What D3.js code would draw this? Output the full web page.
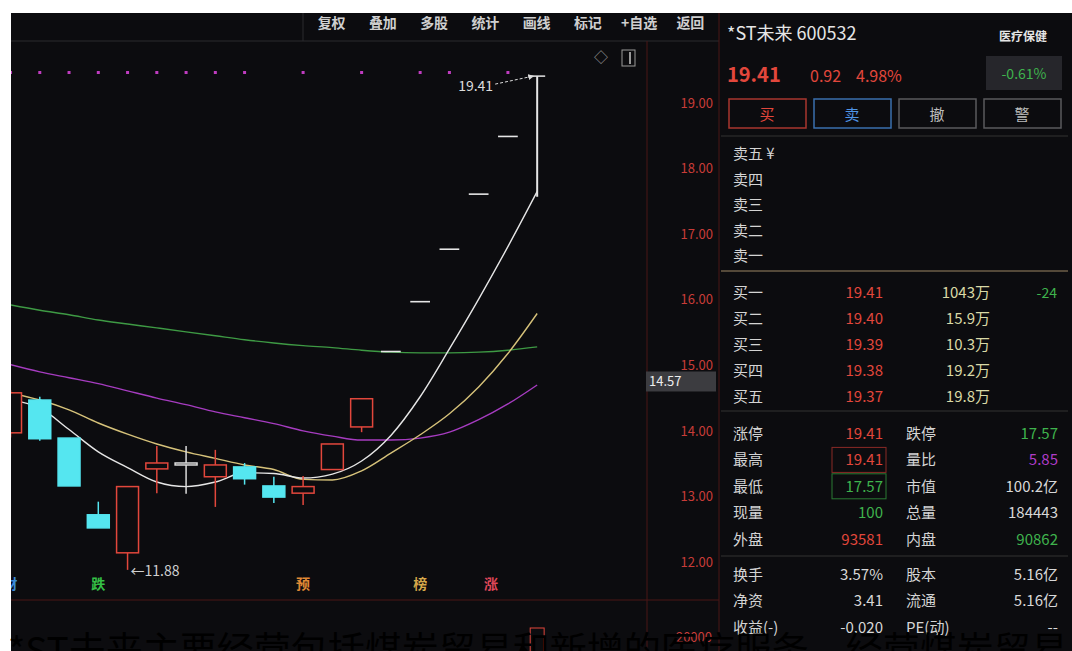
<!DOCTYPE html>
<html>
<head>
<meta charset="utf-8">
<script src="https://cdn.jsdelivr.net/npm/d3@7/dist/d3.min.js"></script>
<style>
  body { margin: 0; background: #fff; }
  svg text { font-family: "Noto Sans CJK SC", "Noto Sans", sans-serif; }
</style>
</head>
<body>
<div id="chart"></div>
<script>
// ---- data ----
var days  = ['D01','D02','D03','D04','D05','D06','D07','D08','D09','D10','D11','D12','D13','D14','D15','D16','D17','D18','D19'];
var open  = [13.97,14.47,13.89,12.72,12.14,13.42,13.51,13.30,13.45,13.16,13.05,13.41,14.06,15.21,15.97,16.77,17.61,18.49,17.57];
var high  = [14.62,14.52,13.89,12.92,13.15,13.77,13.77,13.71,13.51,13.30,13.31,13.80,14.49,15.21,15.97,16.77,17.61,18.49,19.41];
var low   = [13.90,13.85,13.16,12.52,11.88,13.05,13.04,12.84,13.18,12.90,12.87,13.41,13.98,15.21,15.97,16.77,17.61,18.49,17.57];
var close = [14.58,13.88,13.16,12.52,13.15,13.51,13.51,13.48,13.27,12.99,13.15,13.80,14.49,15.21,15.97,16.77,17.61,18.49,19.41];

var ma5  = [14.47,14.35,14.02,13.68,13.44,13.22,13.15,13.22,13.36,13.35,13.28,13.34,13.54,13.93,14.52,15.25,16.01,16.81,17.65];
var ma10 = [14.58,14.47,14.32,14.12,13.95,13.80,13.68,13.58,13.48,13.41,13.26,13.25,13.39,13.66,13.94,14.26,14.67,15.18,15.79];
var ma20 = [15.01,14.90,14.81,14.72,14.61,14.50,14.40,14.29,14.20,14.11,14.00,13.92,13.86,13.86,13.89,13.98,14.17,14.41,14.70];
var ma60 = [15.92,15.84,15.77,15.69,15.63,15.57,15.51,15.45,15.39,15.34,15.30,15.27,15.23,15.20,15.19,15.19,15.20,15.23,15.28];

var priceTicks = [12,13,14,15,16,17,18,19];
var markerDays = [0,1,2,3,4,5,6,7,8,10,12,14,15,17];
var eventDays  = [0,3,10,14,17];
var eventText  = ['财','跌','预','榜','涨'];

var toolbar = ['复权','叠加','多股','统计','画线','标记','+自选','返回'];

var sellRows = ['卖五','卖四','卖三','卖二','卖一'];
var buyRows  = ['买一','买二','买三','买四','买五'];
var buyPrice = [19.41,19.40,19.39,19.38,19.37];
var buyVol   = ['1043万','15.9万','10.3万','19.2万','19.8万'];

var statLabelL = ['涨停','最高','最低','现量','外盘','换手','净资','收益(-)'];
var statValueL = ['19.41','19.41','17.57','100','93581','3.57%','3.41','-0.020'];
var statLabelR = ['跌停','量比','市值','总量','内盘','股本','流通','PE(动)'];
var statValueR = ['17.57','5.85','100.2亿','184443','90862','5.16亿','5.16亿','--'];

// ---- colours ----
var BG = '#0c0c0f', UP = '#e2473c', DOWN = '#55e6f0', AXISRED = '#c83c38', LINE = '#4a1616';
var colL = [UP, UP, '#3fb34d', '#3fb34d', UP, '#d8d8d8', '#d8d8d8', '#d8d8d8'];
var colR = ['#3fb34d', '#b03cc8', '#d8d8d8', '#d8d8d8', '#3fb34d', '#d8d8d8', '#d8d8d8', '#d8d8d8'];
var evCol = ['#3a8ad8', '#35c046', '#e08a35', '#d6a84a', '#e0485a'];

var width = 1072, height = 651;

var svg = d3.select('#chart').append('svg')
  .attr('width', width)
  .attr('height', height);

svg.append('rect').attr('x', 11).attr('y', 13).attr('width', width - 11).attr('height', height - 13).attr('fill', BG);

// ---- scales ----
var x = d3.scaleBand()
  .domain(days)
  .range([-4.1, 551.8])
  .paddingInner(0.25)
  .paddingOuter(0.125);
var bw = x.bandwidth();
var cx = function(i) { return x(days[i]) + bw / 2; };

var y = d3.scaleLinear()
  .domain([12, 19])
  .range([562, 103]);

// ---- frame lines ----
svg.append('line').attr('x1', 11).attr('x2', 719).attr('y1', 41).attr('y2', 41).attr('stroke', '#2a2a2e');
svg.append('line').attr('x1', 303).attr('x2', 303).attr('y1', 13).attr('y2', 41).attr('stroke', '#2a2a2e');
svg.append('line').attr('x1', 647).attr('x2', 647).attr('y1', 41).attr('y2', height).attr('stroke', LINE);
svg.append('line').attr('x1', 719).attr('x2', 719).attr('y1', 13).attr('y2', height).attr('stroke', LINE);
svg.append('line').attr('x1', 11).attr('x2', 719).attr('y1', 600).attr('y2', 600).attr('stroke', LINE);

// toolbar
var tb = d3.scaleBand().domain(toolbar).range([306, 716]);
svg.append('g').selectAll('text').data(toolbar).enter().append('text')
  .attr('x', d => tb(d) + tb.bandwidth() / 2)
  .attr('y', 28)
  .attr('text-anchor', 'middle')
  .attr('fill', '#cfcfcf')
  .attr('font-size', 14)
  .attr('font-weight', 'bold')
  .text(d => d);

// small icons top-right of chart
svg.append('text').attr('x', 601).attr('y', 62).attr('text-anchor', 'middle').attr('fill', '#9a9a9a').attr('font-size', 14).text('◇');
svg.append('rect').attr('x', 622).attr('y', 50).attr('width', 13).attr('height', 16).attr('fill', 'none').attr('stroke', '#9a9a9a');
svg.append('line').attr('x1', 630).attr('x2', 630).attr('y1', 52).attr('y2', 64).attr('stroke', '#9a9a9a').attr('stroke-width', 2);

// ---- price axis ----
var yAxis = d3.axisRight(y).tickValues(priceTicks).tickFormat(d3.format('.2f')).tickSize(0);
var ax = svg.append('g').attr('class', 'y axis').attr('transform', 'translate(713,0)').call(yAxis);
ax.select('.domain').remove();
ax.selectAll('text').attr('x', 0).attr('text-anchor', 'end').attr('fill', AXISRED).attr('font-size', 13);

svg.append('text').attr('x', 712).attr('y', 642).attr('text-anchor', 'end').attr('fill', AXISRED).attr('font-size', 13).text('20000');

// ---- plot area ----
svg.append('clipPath').attr('id', 'plot').append('rect')
  .attr('x', 11).attr('y', 42).attr('width', 636).attr('height', 558);
var plot = svg.append('g').attr('clip-path', 'url(#plot)');

// indicator markers
plot.selectAll('.mark').data(markerDays).enter().append('rect')
  .attr('class', 'mark')
  .attr('x', d => cx(d) - 1.5).attr('y', 71)
  .attr('width', 3).attr('height', 3)
  .attr('fill', '#c03cc0');

// moving averages
var maLine = d3.line().x((d, i) => cx(i)).y(d => y(d)).curve(d3.curveMonotoneX);
[[ma60, '#3e9a44'], [ma20, '#a63cc0'], [ma10, '#d6c27a'], [ma5, '#e6e6e6']].forEach(function(s) {
  plot.append('path').datum(s[0])
    .attr('d', maLine)
    .attr('fill', 'none')
    .attr('stroke', s[1])
    .attr('stroke-width', 1.4);
});

// candles
var last = days.length - 1;
var candles = plot.selectAll('.candle').data(days).enter().append('g').attr('class', 'candle');
candles.each(function(d, i) {
  var g = d3.select(this), c = cx(i);
  if (i === last) {
    g.append('line').attr('x1', c).attr('x2', c).attr('y1', y(low[i])).attr('y2', y(high[i]))
      .attr('stroke', '#e6e6e6').attr('stroke-width', 2);
    g.append('line').attr('x1', c - 8).attr('x2', c + 8).attr('y1', y(high[i])).attr('y2', y(high[i]))
      .attr('stroke', '#e6e6e6').attr('stroke-width', 1.5);
    return;
  }
  if (high[i] === low[i]) {
    g.append('line').attr('x1', c - bw * 0.45).attr('x2', c + bw * 0.45)
      .attr('y1', y(close[i])).attr('y2', y(close[i]))
      .attr('stroke', '#e6e6e6').attr('stroke-width', 1.6);
    return;
  }
  var col = close[i] > open[i] ? UP : close[i] < open[i] ? DOWN : '#dcdcdc';
  var top = Math.max(open[i], close[i]), bot = Math.min(open[i], close[i]);
  g.append('line').attr('x1', c).attr('x2', c).attr('y1', y(high[i])).attr('y2', y(top)).attr('stroke', col).attr('stroke-width', 1.5);
  g.append('line').attr('x1', c).attr('x2', c).attr('y1', y(bot)).attr('y2', y(low[i])).attr('stroke', col).attr('stroke-width', 1.5);
  var h = Math.max(y(bot) - y(top), 2);
  g.append('rect')
    .attr('x', x(d)).attr('y', y(top))
    .attr('width', bw).attr('height', h)
    .attr('fill', close[i] < open[i] ? DOWN : BG)
    .attr('stroke', col).attr('stroke-width', 1.5);
});

// annotations: high of last day and lowest low
svg.append('defs').append('marker').attr('id', 'arr').attr('viewBox', '0 0 6 6')
  .attr('refX', 5).attr('refY', 3).attr('markerWidth', 6).attr('markerHeight', 6).attr('orient', 'auto')
  .append('path').attr('d', 'M0,0L6,3L0,6Z').attr('fill', '#dcdcdc');
var hx = cx(last), hy = y(high[last]);
plot.append('text').attr('x', hx - 44).attr('y', hy + 15).attr('text-anchor', 'end')
  .attr('fill', '#dcdcdc').attr('font-size', 14).text(d3.format('.2f')(high[last]));
plot.append('line').attr('x1', hx - 42).attr('y1', hy + 8).attr('x2', hx - 4).attr('y2', hy)
  .attr('stroke', '#dcdcdc').attr('stroke-dasharray', '3,2').attr('marker-end', 'url(#arr)');

var li = low.indexOf(d3.min(low));
plot.append('text').attr('x', cx(li) + 3).attr('y', y(low[li]) + 6)
  .attr('fill', '#cfcfcf').attr('font-size', 14).text('←' + d3.format('.2f')(low[li]));

// event row
plot.selectAll('.ev').data(eventDays).enter().append('text')
  .attr('class', 'ev')
  .attr('x', (d, i) => cx(d) - (i === 4 ? 17 : 0))
  .attr('y', 589)
  .attr('text-anchor', 'middle')
  .attr('fill', (d, i) => evCol[i])
  .attr('font-size', 14)
  .attr('font-weight', 'bold')
  .text((d, i) => eventText[i]);

// current price box on axis
var cur = 14.57;
svg.append('rect').attr('x', 646).attr('y', y(cur) - 22).attr('width', 70).attr('height', 20).attr('fill', '#3c3c40');
svg.append('text').attr('x', 649).attr('y', y(cur) - 7).attr('fill', '#eeeeee').attr('font-size', 13).text(d3.format('.2f')(cur));

// volume bar of last day (mostly below the frame)
svg.append('rect').attr('x', x(days[last]) + 4).attr('y', 628).attr('width', bw - 8).attr('height', 30)
  .attr('fill', BG).attr('stroke', UP);

// ---- right panel ----
var P = svg.append('g');
P.append('text').attr('x', 727).attr('y', 40).attr('fill', '#e6e6e6').attr('font-size', 18).text('*ST未来 600532');
P.append('text').attr('x', 1023).attr('y', 41).attr('text-anchor', 'middle').attr('fill', '#e6e6e6').attr('font-size', 12).attr('font-weight', 'bold').text('医疗保健');
P.append('rect').attr('x', 986).attr('y', 56).attr('width', 76).attr('height', 34).attr('fill', '#26262b');
P.append('text').attr('x', 1024).attr('y', 79).attr('text-anchor', 'middle').attr('fill', '#3fb34d').attr('font-size', 14).text('-0.61%');

P.append('text').attr('x', 727).attr('y', 82).attr('fill', UP).attr('font-size', 20).attr('font-weight', 'bold').text('19.41');
P.append('text').attr('x', 810).attr('y', 82).attr('fill', UP).attr('font-size', 16).text('0.92');
P.append('text').attr('x', 856).attr('y', 82).attr('fill', UP).attr('font-size', 16).text('4.98%');

var btn = [['买', '#a8362f', UP], ['卖', '#3a6fae', '#4f95e6'], ['撤', '#5a5a5e', '#bdbdbd'], ['警', '#5a5a5e', '#bdbdbd']];
btn.forEach(function(b, i) {
  var bx = 729 + i * 85;
  P.append('rect').attr('x', bx).attr('y', 99).attr('width', 77).attr('height', 29)
    .attr('fill', 'none').attr('stroke', b[1]).attr('stroke-width', 1.5);
  P.append('text').attr('x', bx + 38).attr('y', 120).attr('text-anchor', 'middle')
    .attr('fill', b[2]).attr('font-size', 15).text(b[0]);
});

P.append('line').attr('x1', 721).attr('x2', 1068).attr('y1', 136).attr('y2', 136).attr('stroke', '#333');
P.append('line').attr('x1', 721).attr('x2', 1068).attr('y1', 271).attr('y2', 271).attr('stroke', '#6d5e48').attr('stroke-width', 1.5);
P.append('line').attr('x1', 721).attr('x2', 1068).attr('y1', 411).attr('y2', 411).attr('stroke', '#333');
P.append('line').attr('x1', 721).attr('x2', 1068).attr('y1', 556).attr('y2', 556).attr('stroke', '#333');

var sellY = d3.scalePoint().domain(sellRows).range([159, 261]);
P.selectAll('.sell').data(sellRows).enter().append('text')
  .attr('x', 733).attr('y', d => sellY(d))
  .attr('fill', '#d4d4d4').attr('font-size', 15)
  .text((d, i) => i === 0 ? d + ' ¥' : d);

var buyY = d3.scalePoint().domain(buyRows).range([298, 402]);
var buy = P.selectAll('.buy').data(buyRows).enter().append('g');
buy.append('text').attr('x', 733).attr('y', d => buyY(d)).attr('fill', '#d4d4d4').attr('font-size', 15).text(d => d);
buy.append('text').attr('x', 883).attr('y', d => buyY(d)).attr('text-anchor', 'end').attr('fill', UP).attr('font-size', 15)
  .text((d, i) => d3.format('.2f')(buyPrice[i]));
buy.append('text').attr('x', 990).attr('y', d => buyY(d)).attr('text-anchor', 'end').attr('fill', '#d9d9a6').attr('font-size', 15)
  .text((d, i) => buyVol[i]);
P.append('text').attr('x', 1057).attr('y', buyY(buyRows[0])).attr('text-anchor', 'end').attr('fill', '#3fb34d').attr('font-size', 14).text('-24');

var rowY = function(i) { return 439 + i * 26.4 + (i >= 5 ? 9 : 0); };
var st = P.selectAll('.st').data(statLabelL).enter().append('g');
st.append('text').attr('x', 733).attr('y', (d, i) => rowY(i)).attr('fill', '#d4d4d4').attr('font-size', 15).text(d => d);
st.append('text').attr('x', 883).attr('y', (d, i) => rowY(i)).attr('text-anchor', 'end').attr('fill', (d, i) => colL[i]).attr('font-size', 15)
  .text((d, i) => statValueL[i]);
st.append('text').attr('x', 906).attr('y', (d, i) => rowY(i)).attr('fill', '#d4d4d4').attr('font-size', 15).text((d, i) => statLabelR[i]);
st.append('text').attr('x', 1058).attr('y', (d, i) => rowY(i)).attr('text-anchor', 'end').attr('fill', (d, i) => colR[i]).attr('font-size', 15)
  .text((d, i) => statValueR[i]);
P.append('rect').attr('x', 832).attr('y', rowY(1) - 18).attr('width', 54).attr('height', 25).attr('fill', 'none').attr('stroke', '#8a2a26');
P.append('rect').attr('x', 832).attr('y', rowY(2) - 18).attr('width', 54).attr('height', 25).attr('fill', 'none').attr('stroke', '#2a7a34');

// caption cut by the bottom edge
svg.append('text').attr('x', 8).attr('y', 664)
  .attr('fill', '#000').attr('font-size', 37)
  .text('*ST未来主要经营包括煤炭贸易和新增的医疗服务、经营煤炭贸易');
</script>
</body>
</html>
